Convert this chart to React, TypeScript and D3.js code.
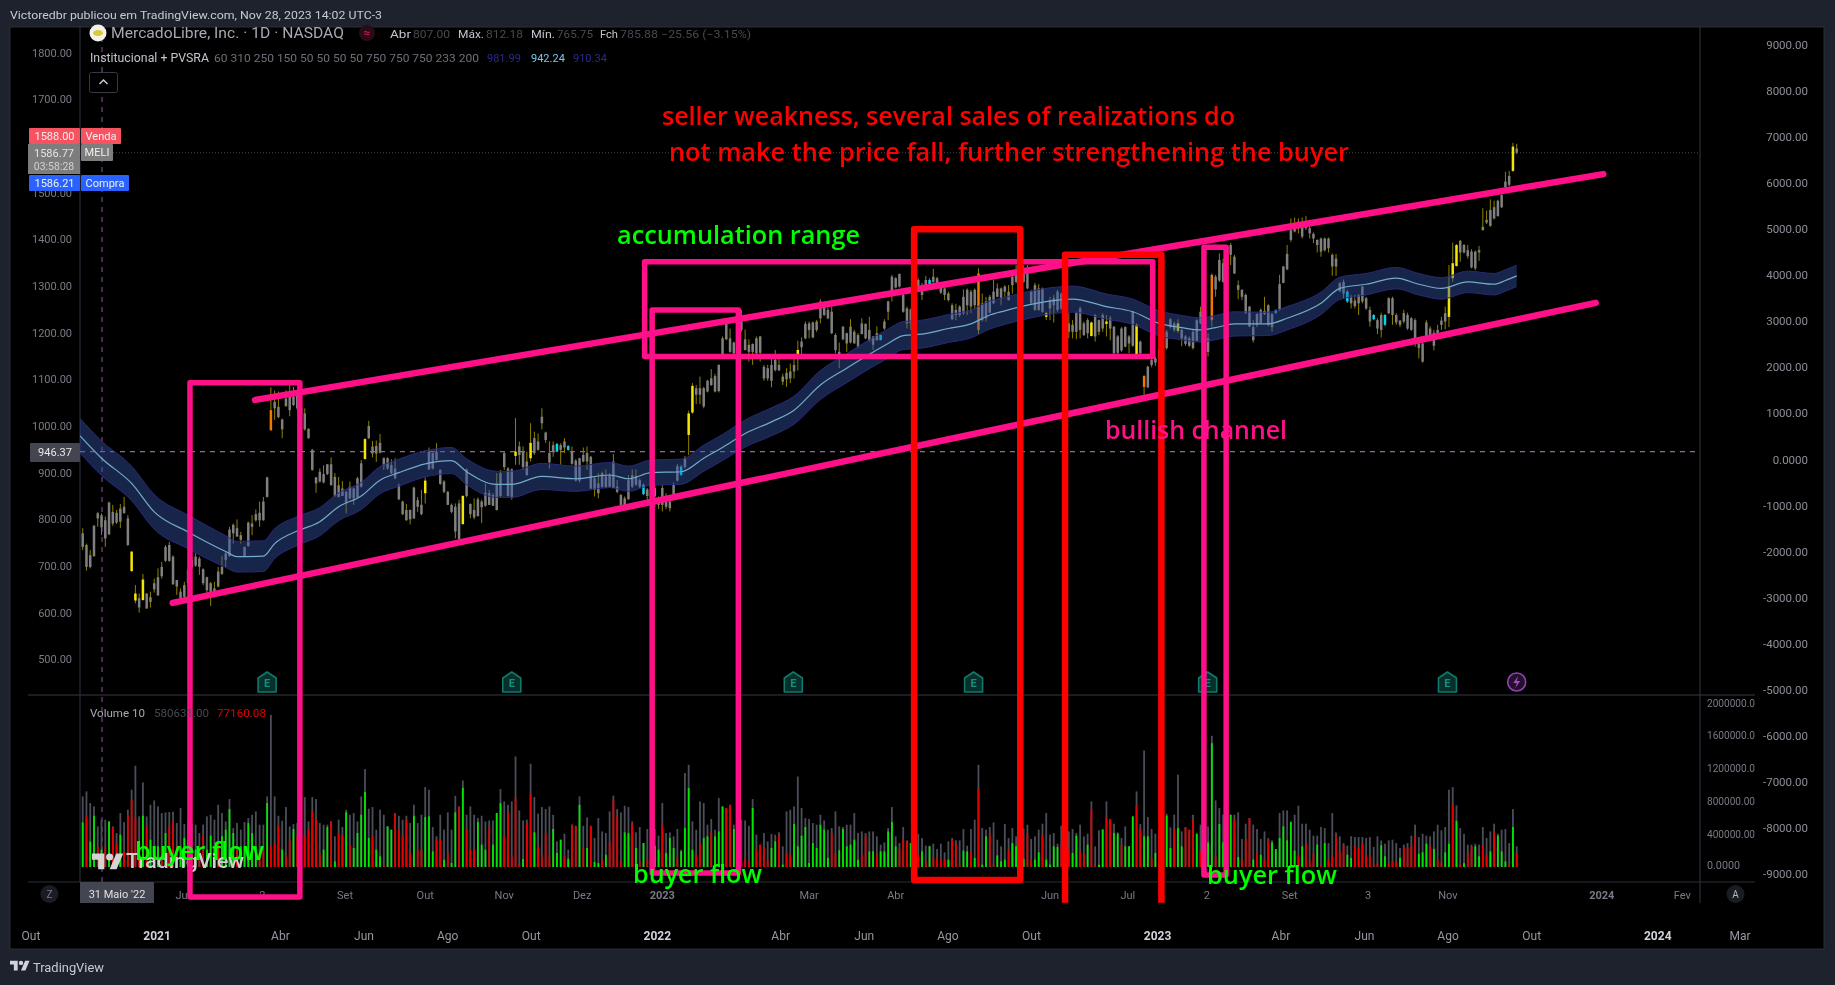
import React from "react";
import * as d3 from "d3";

const W = 1835, H = 985;

// ---------- candle values (MELI, USD) ----------
const bodyTop = [
771,746,724,787,814,810,799,837,817,815,824,828,803,732,642,632,672,642,634,664,
677,699,742,746,721,671,646,660,692,714,721,717,694,677,664,653,689,699,728,779,
789,782,767,742,794,792,812,815,839,891,1035,1053,1042,1015,1060,1071,1064,1067,1042,1028,
995,950,891,903,898,919,919,892,874,867,860,871,867,889,921,973,1001,957,958,965,
932,932,917,910,874,839,821,821,869,842,832,884,946,943,946,907,882,860,832,828,
835,851,908,834,821,844,839,858,857,853,875,900,943,910,908,946,957,946,925,965,
975,968,1021,987,943,960,963,960,968,958,946,927,932,939,943,935,889,878,900,893,
896,925,871,853,846,885,896,894,885,875,865,857,868,843,868,844,839,875,915,914,
932,1028,1087,1082,1082,1082,1098,1103,1108,1132,1189,1220,1189,1180,1207,1225,1187,1175,1177,1189,
1193,1128,1125,1132,1143,1132,1107,1115,1118,1132,1164,1182,1220,1221,1223,1225,1268,1257,1250,1246,
1196,1160,1214,1200,1214,1203,1196,1221,1220,1207,1193,1200,1196,1225,1268,1321,1318,1327,1282,1253,
1251,1293,1314,1293,1314,1314,1321,1318,1298,1296,1285,1260,1250,1257,1278,1293,1289,1293,1328,1264,
1268,1278,1289,1296,1296,1300,1289,1321,1325,1328,1335,1328,1289,1303,1296,1296,1243,1271,1275,1289,
1285,1257,1221,1218,1243,1253,1221,1228,1223,1239,1228,1239,1225,1232,1214,1193,1210,1213,1193,1246,
1218,1182,1108,1128,1143,1146,1164,1251,1203,1230,1221,1221,1207,1193,1189,1203,1228,1246,1218,1189,
1325,1321,1357,1350,1378,1389,1364,1303,1293,1282,1257,1213,1241,1250,1248,1260,1241,1250,1305,1343,
1370,1421,1432,1439,1435,1432,1425,1413,1400,1403,1403,1403,1368,1360,1307,1310,1289,1278,1270,1282,
1300,1275,1250,1239,1228,1239,1239,1275,1275,1239,1227,1243,1239,1232,1228,1178,1178,1223,1210,1201,
1207,1227,1243,1300,1350,1389,1398,1389,1378,1375,1375,1378,1428,1443,1464,1470,1484,1496,1525,1537,
1600,1596];
const bodyBottom = [
742,699,699,722,803,784,760,769,792,794,796,814,746,690,627,612,628,610,624,651,
638,679,712,712,662,657,632,635,664,699,702,699,664,649,635,644,657,684,714,722,
771,764,757,722,744,785,799,799,799,849,992,1039,1020,994,1044,1035,1046,1039,1025,994,
975,907,878,882,880,898,874,851,849,851,835,846,846,848,871,930,975,942,942,944,
917,910,900,889,844,812,799,801,803,828,812,857,908,910,928,877,860,832,817,775,
759,791,851,812,805,808,827,830,832,830,821,851,913,851,848,937,939,913,896,932,
943,950,1007,971,923,946,946,950,955,950,920,884,884,925,925,867,864,857,871,870,
871,868,860,832,832,844,871,875,871,855,851,843,850,832,832,828,825,848,884,896,
913,982,1030,1068,1068,1043,1075,1089,1075,1076,1155,1187,1160,1157,1185,1207,1164,1160,1160,1157,
1158,1103,1103,1098,1121,1120,1096,1101,1103,1118,1155,1170,1189,1207,1191,1207,1232,1239,1232,1200,
1164,1146,1187,1178,1180,1178,1171,1198,1189,1184,1175,1185,1185,1210,1246,1282,1298,1300,1246,1221,
1221,1257,1293,1282,1300,1305,1310,1303,1287,1282,1271,1230,1239,1239,1243,1260,1257,1260,1207,1228,
1232,1244,1264,1278,1275,1289,1271,1303,1310,1307,1310,1296,1264,1250,1250,1246,1235,1253,1260,1250,
1253,1221,1203,1203,1203,1207,1196,1200,1194,1193,1203,1210,1220,1210,1157,1158,1163,1171,1178,1173,
1153,1157,1085,1084,1132,1137,1146,1214,1168,1213,1207,1205,1189,1177,1173,1168,1184,1221,1185,1160,
1228,1294,1313,1310,1346,1368,1328,1293,1278,1243,1214,1185,1218,1221,1241,1218,1213,1244,1250,1308,
1337,1400,1418,1425,1407,1425,1414,1403,1389,1375,1378,1382,1343,1343,1290,1285,1268,1264,1258,1264,
1268,1253,1225,1230,1210,1207,1218,1243,1239,1223,1218,1225,1210,1207,1178,1168,1139,1185,1196,1173,
1200,1218,1225,1235,1318,1344,1373,1373,1365,1341,1339,1373,1421,1437,1430,1446,1451,1470,1513,1518,
1548,1587];
const highs = [
782,749,735,789,817,814,807,839,832,821,834,849,810,732,660,642,684,642,646,674,
696,710,746,753,724,671,653,667,699,724,728,721,696,678,667,667,699,723,732,785,
792,801,774,742,796,810,822,839,849,892,1084,1077,1075,1017,1078,1089,1085,1078,1050,1039,
996,952,892,910,917,919,934,900,892,883,862,882,869,892,928,975,1012,969,970,984,
934,934,930,932,878,841,834,822,871,849,864,891,955,944,964,908,885,862,835,835,
843,853,910,835,846,848,843,878,864,857,900,907,945,913,910,1018,968,957,946,1007,
989,985,1039,989,968,968,964,964,975,960,957,930,933,955,957,937,891,900,903,908,
900,941,885,855,850,896,908,908,889,878,868,864,875,850,875,857,851,880,920,918,
937,1034,1093,1089,1107,1085,1100,1123,1113,1133,1193,1232,1210,1182,1232,1250,1208,1187,1178,1193,
1194,1132,1132,1150,1164,1155,1113,1125,1135,1146,1184,1191,1225,1225,1225,1228,1273,1268,1255,1257,
1200,1180,1215,1201,1230,1207,1200,1232,1221,1235,1194,1215,1197,1230,1270,1325,1320,1328,1285,1257,
1253,1300,1318,1308,1323,1318,1338,1321,1307,1303,1289,1264,1263,1260,1294,1296,1293,1296,1339,1285,
1278,1282,1314,1307,1298,1303,1303,1335,1346,1335,1346,1346,1293,1308,1305,1298,1246,1278,1282,1293,
1287,1260,1243,1228,1246,1257,1225,1232,1225,1241,1230,1243,1239,1237,1215,1196,1213,1215,1196,1248,
1221,1184,1110,1130,1144,1150,1171,1253,1207,1232,1225,1230,1210,1196,1193,1207,1230,1257,1228,1200,
1328,1325,1371,1360,1382,1393,1368,1313,1294,1285,1258,1228,1243,1253,1278,1262,1243,1251,1325,1344,
1389,1446,1448,1446,1448,1451,1443,1416,1401,1405,1405,1405,1371,1370,1310,1315,1293,1282,1282,1284,
1301,1278,1257,1241,1232,1244,1241,1277,1278,1243,1228,1250,1244,1235,1232,1189,1182,1228,1215,1207,
1218,1235,1257,1346,1394,1391,1400,1391,1389,1380,1377,1387,1468,1463,1487,1484,1486,1498,1546,1548,
1608,1606];
const lows = [
735,691,696,721,785,767,742,767,787,791,782,814,744,689,621,601,627,609,612,644,
637,674,710,710,660,639,624,629,657,696,699,682,660,642,615,644,655,682,699,721,
749,764,749,721,742,767,796,785,798,848,991,1014,1018,975,1042,1022,1044,1035,1021,991,
974,905,858,880,878,896,874,849,848,851,814,844,832,846,869,930,973,934,924,942,
907,907,898,887,842,810,798,790,802,817,810,835,907,908,927,875,857,832,814,760,
757,789,848,803,801,807,793,828,832,830,820,848,907,850,843,918,918,907,894,925,
939,948,994,965,910,935,946,918,943,948,918,882,880,923,907,865,850,846,868,868,
870,868,857,830,828,843,868,873,868,853,832,832,827,823,818,823,818,848,882,894,
910,939,1027,1048,1048,1039,1073,1087,1073,1073,1153,1185,1158,1155,1153,1203,1163,1139,1132,1155,
1139,1098,1098,1084,1118,1120,1089,1085,1093,1103,1120,1150,1187,1189,1189,1203,1221,1237,1230,1198,
1157,1125,1185,1160,1178,1178,1168,1198,1187,1182,1164,1184,1185,1207,1228,1268,1296,1298,1244,1210,
1207,1253,1289,1271,1298,1305,1308,1301,1284,1271,1268,1228,1228,1235,1239,1239,1243,1251,1196,1225,
1225,1243,1263,1277,1260,1278,1270,1285,1307,1300,1308,1294,1260,1248,1248,1244,1228,1228,1223,1246,
1250,1210,1189,1189,1187,1189,1194,1189,1193,1182,1196,1203,1193,1185,1153,1155,1160,1170,1157,1171,
1151,1153,1068,1082,1127,1130,1127,1185,1165,1210,1203,1201,1172,1173,1170,1165,1182,1220,1178,1150,
1214,1278,1310,1308,1343,1346,1327,1273,1271,1241,1213,1180,1213,1220,1239,1215,1203,1241,1248,1307,
1335,1396,1416,1414,1403,1421,1403,1393,1373,1364,1375,1373,1323,1323,1289,1275,1265,1253,1253,1239,
1264,1250,1214,1228,1198,1191,1215,1241,1218,1218,1213,1221,1207,1205,1171,1146,1137,1184,1189,1163,
1196,1207,1208,1213,1310,1343,1353,1371,1360,1339,1335,1355,1420,1434,1428,1444,1450,1468,1511,1515,
1546,1584];
const yellowBars = [13,14,16,75,91,101,115,119,161,162,190,256,268,272,280,291,363,364,365,380];
const orangeBars = [50,238,282,300];
const cyanBars = [126,129,149,159,212,225,317,336,343,346];

// ---------- volume, thousands of shares; delta sign picks green / red ----------
const volTotal = [
861,922,780,739,495,577,577,556,495,414,658,548,698,942,1234,617,1031,617,759,812,
739,658,666,670,674,536,719,524,577,536,516,414,516,617,637,577,759,658,556,828,
475,536,455,548,597,637,678,516,516,861,1855,861,625,564,731,495,524,536,617,853,
556,853,828,536,516,516,556,374,577,487,698,637,658,556,861,1194,711,731,455,698,
637,495,455,658,625,577,625,536,759,536,637,974,942,487,374,637,455,666,455,869,
739,1056,637,739,637,597,625,556,568,568,658,950,800,759,800,1348,690,568,577,1259,
853,650,731,706,739,637,313,333,406,211,516,503,861,503,605,503,353,597,434,414,
678,869,706,666,747,731,556,422,487,292,463,475,463,382,780,414,422,374,463,211,
1145,1246,556,455,800,780,516,585,455,840,739,719,759,516,577,577,568,503,828,394,
272,414,313,402,394,422,252,678,698,739,1104,719,597,585,536,516,637,568,455,475,
678,495,487,516,516,658,414,434,414,434,434,374,272,300,475,731,374,292,487,325,
292,406,406,353,260,260,284,219,284,179,313,353,325,325,463,260,463,577,1246,475,
455,487,544,333,252,524,353,475,374,516,470,516,341,374,455,528,658,394,414,284,
503,434,434,463,414,516,374,406,800,252,447,463,800,585,528,422,353,495,252,617,
922,524,1421,609,463,406,455,700,650,483,637,1125,434,487,455,637,406,516,380,495,
1600,812,719,640,600,637,637,666,341,528,597,516,463,341,434,353,325,219,658,690,
690,556,637,747,528,528,455,382,382,487,475,292,658,422,374,292,260,374,365,365,
365,353,365,244,374,325,284,325,333,292,231,272,292,382,516,365,406,382,374,434,
516,447,487,942,974,751,475,406,272,272,284,272,487,353,434,528,406,455,463,292,
706,252];
const volDelta = [
544,-617,309,625,-252,211,-252,556,-475,-292,394,-191,-637,-820,-597,-211,625,-495,333,-211,
252,-252,414,-495,-556,-252,252,353,333,-211,211,-211,-394,211,382,252,-292,374,455,706,
414,-211,252,252,536,414,252,-171,-211,780,-252,-292,-503,211,-130,-341,463,-374,-252,-374,
-455,-678,-577,-171,211,487,-556,69,-414,-394,666,-272,231,414,637,914,353,-374,211,130,
-28,495,455,-658,-455,-374,-580,-171,625,-211,-211,609,617,191,-333,-333,89,-171,49,666,
-719,966,-455,-211,-219,548,272,211,-487,272,658,780,-374,-666,-130,-840,-28,97,-536,-893,
422,-252,-130,-414,-130,463,171,333,-130,100,-516,-495,759,-231,231,-500,60,49,-80,150,
-300,-812,-617,-69,422,414,-524,231,-69,292,-100,252,260,211,-516,171,353,231,-110,191,
475,962,211,-150,-292,353,374,-422,374,434,739,-719,-759,463,400,-60,-118,-69,719,-219,
-272,-231,-89,231,313,-394,28,-171,-150,524,252,382,487,49,292,231,516,455,110,-414,
-171,203,463,252,272,333,89,-150,-382,191,191,-150,191,191,434,548,252,-219,-333,-313,
292,200,-150,191,-69,252,-110,-110,-89,-89,89,-333,-292,-28,199,191,-191,110,-954,28,
374,-406,-28,142,69,89,-211,292,252,-120,100,-406,-89,89,179,-394,89,28,252,244,
-272,150,-200,171,382,-191,-171,272,-698,-28,28,455,-597,-585,414,406,-272,252,252,617,
-747,-455,374,374,-110,171,-150,300,625,231,-455,475,252,-487,-455,-577,406,-200,180,300,
1510,-130,524,300,-200,637,-585,122,-80,-333,-597,89,-171,150,-89,-325,300,219,353,495,
325,548,199,-138,252,-292,-69,-171,272,-16,292,-89,-130,-374,-183,-264,150,110,-252,-231,
-284,-150,-130,-28,-49,264,130,-49,-69,-57,110,-244,-231,-252,-374,162,179,284,-252,219,
-89,-57,179,284,-759,564,-28,49,-171,-252,252,130,-260,-150,191,-422,382,191,69,-28,
487,-171];

// ---------- institutional band: bar index, centre price, half width ----------
const bandIndex = [-0.7,5,13,19,28,38,41,48,51,57,63,68,74,79,84,91,98,102,110,114,122,131,140,145,151,159,165,170,176,183,189,196,203,208,214,218,223,230,236,241,245,251,259,263,272,279,286,292,297,301,306,315,320,329,334,341,349,355,361,368,375,378,381];
const bandCentre = [980,932,878,817,774,732,721,722,749,776,796,828,851,885,901,920,927,903,876,876,893,888,896,888,901,903,932,955,985,1010,1035,1089,1125,1150,1178,1195,1198,1210,1220,1239,1248,1260,1271,1273,1257,1246,1221,1212,1207,1212,1220,1220,1232,1264,1296,1305,1318,1305,1296,1310,1305,1313,1323];
const bandHalf = [37,37,37,37,36,34,33,33,32,31,30,30,29,29,29,28,28,28,28,28,28,27,27,27,27,27,28,28,29,30,30,31,31,31,31,30,30,30,30,30,29,29,28,28,27,27,27,26,26,26,26,25,25,24,24,23,23,23,23,23,23,23,23];

// ---------- axes ----------
const priceTicks = [1800,1700,1500,1400,1300,1200,1100,1000,900,800,700,600,500];
const rightTicks = [9000,8000,7000,6000,5000,4000,3000,2000,1000,0,-1000,-2000,-3000,-4000,-5000,-6000,-7000,-8000,-9000];
const volTicks = ["2000000.0","1600000.0","1200000.0","800000.00","400000.00","0.0000"];
const volTickValues = [2000,1600,1200,800,400,20];
const upperTickLabels = ["Jul","2","Set","Out","Nov","Dez","2023","Mar","Abr","Jun","Jul","2","Set","3","Nov","2024","Fev"];
const upperTickBars = [26.6,47.7,69.7,91,112,132.7,154,193,216,257,277.7,298.7,320.7,341.5,362.7,403.6,425];
const lowerTickLabels = ["Out","2021","Abr","Jun","Ago","Out","2022","Abr","Jun","Ago","Out","2023","Abr","Jun","Ago","Out","2024","Mar"];
const lowerTickDates = ["2020-10-01","2021-01-01","2021-04-01","2021-06-01","2021-08-01","2021-10-01","2022-01-01","2022-04-01","2022-06-01","2022-08-01","2022-10-01","2023-01-01","2023-04-01","2023-06-01","2023-08-01","2023-10-01","2024-01-01","2024-03-01"];
const earningsBars = [49,114,188.8,236.7,298.9,362.6];

// ---------- drawn annotations, in bar index and price ----------
const upperTrend = [[45.8,1057],[404,1541]];
const lowerTrend = [[23.9,622],[402,1265]];
const pinkBoxes = [[28.5,57.7,1094,-8.6],[151.3,174.2,1250,43],[149.3,284.3,1353,1150],[297.9,303.8,1384,38.6]];
const redBox = [220.9,249.1,1423,28];
const redOpenBox = [261,286.6,1368,-21];

const UI = "Roboto, 'Open Sans', sans-serif";
const NOTE = "'Open Sans', 'Noto Sans', sans-serif";
const PINK = "#ff1088", RED = "#ff0000", GREEN = "#00ff00";

const x = d3.scaleLinear().domain([0, 381]).range([82.7, 1516.7]);
const yP = d3.scaleLinear().domain([1800, 500]).range([53.3, 659.75]);
const yR = d3.scaleLinear().domain([7000, -9000]).range([137, 874.3]);
const yV = d3.scaleLinear().domain([0, 400]).range([867, 834.2]);
const xT = d3.scaleUtc().domain([new Date("2020-10-01"), new Date("2024-03-01")]).range([31, 1740]);

const bandPts = bandIndex.map((b, k) => ({ b, c: bandCentre[k], h: bandHalf[k] }));
const bandArea = d3.area<any>().x(d => x(d.b)).y0(d => yP(d.c - d.h)).y1(d => yP(d.c + d.h)).curve(d3.curveMonotoneX);
const bandUp = d3.line<any>().x(d => x(d.b)).y(d => yP(d.c + d.h)).curve(d3.curveMonotoneX);
const bandDn = d3.line<any>().x(d => x(d.b)).y(d => yP(d.c - d.h)).curve(d3.curveMonotoneX);
const bandMid = d3.line<any>().x(d => x(d.b)).y(d => yP(d.c)).curve(d3.curveMonotoneX);

const yellowSet = new Set(yellowBars), orangeSet = new Set(orangeBars), cyanSet = new Set(cyanBars);
const bodyColor = (i: number) => yellowSet.has(i) ? "#f4e600" : orangeSet.has(i) ? "#f07800" : cyanSet.has(i) ? "#00d8f0" : "#808080";

const T = ({ x: tx, y, s = 11, c = "#787b86", w = 400, a = "start", f = UI, len, children }: any) => (
  <text x={tx} y={y} fontSize={s} fill={c} fontWeight={w} textAnchor={a} fontFamily={f} dominantBaseline="central"
    {...(len ? { textLength: len, lengthAdjust: "spacingAndGlyphs" } : {})}>{children}</text>
);

const Logo = ({ tx, ty, k, c }: any) => (
  <g transform={`translate(${tx},${ty}) scale(${k})`} fill={c}>
    <path d="M14 22H7V11H0V4h14v18z" />
    <circle cx={20} cy={8} r={4} />
    <path d="M28 22h-8l7.5-18h8L28 22z" />
  </g>
);

const Tag = ({ x0, x1, y0, y1, fill, label }: any) => (
  <g>
    <rect x={x0} y={y0} width={x1 - x0} height={y1 - y0} fill={fill} rx={1} />
    <T x={(x0 + x1) / 2} y={(y0 + y1) / 2} s={11} c="#f0f0f0" a="middle">{label}</T>
  </g>
);

const boxPath = (b: number[], closed: boolean) => {
  const [a, z, top, bot] = b;
  return closed
    ? `M${x(a)},${yP(top)}H${x(z)}V${yP(bot)}H${x(a)}Z`
    : `M${x(a)},${yP(bot)}V${yP(top)}H${x(z)}V${yP(bot)}`;
};
const trendPath = (t: number[][]) => `M${x(t[0][0])},${yP(t[0][1])}L${x(t[1][0])},${yP(t[1][1])}`;

export default function App() {
  return (
    <svg width={W} height={H} viewBox={`0 0 ${W} ${H}`}
      style={{ position: "fixed", left: 0, top: 0, display: "block", background: "#1e222d", filter: "blur(0.35px)" }}>
      <rect x={10} y={27} width={1814} height={922} fill="#000" stroke="#2a2e39" strokeWidth={1} />
      <T x={10} y={15} s={11.5} c="#c8cbd3" len={372}>Victoredbr publicou em TradingView.com, Nov 28, 2023 14:02 UTC-3</T>

      {/* pane frames */}
      <g stroke="#2a2e39" strokeWidth={1.2}>
        <line x1={80} x2={80} y1={27} y2={882} />
        <line x1={1700} x2={1700} y1={27} y2={903} />
        <line x1={28} x2={1755} y1={695} y2={695} stroke="#363a45" />
        <line x1={28} x2={1755} y1={882} y2={882} />
      </g>

      {/* crosshair and last price */}
      <line x1={102} x2={102} y1={27} y2={882} stroke="#7d3f8f" strokeWidth={1.2} strokeDasharray="5 5" />
      <line x1={80} x2={1700} y1={451.7} y2={451.7} stroke="#9a5fb0" strokeWidth={1.2} strokeDasharray="5 5" />
      <line x1={113} x2={1700} y1={yP(1586.77)} y2={yP(1586.77)} stroke="#4a4a4a" strokeWidth={1} strokeDasharray="1 2" />

      {/* volume */}
      <g>
        {volTotal.map((v, i) => <rect key={i} x={x(i) - 0.9} width={1.8} y={yV(v)} height={yV(0) - yV(v)} fill="#4a4e59" />)}
        {volDelta.map((v, i) => <rect key={i} x={x(i) - 0.9} width={1.8} y={yV(Math.abs(v))} height={yV(0) - yV(Math.abs(v))} fill={v > 0 ? "#00e600" : "#e60000"} />)}
      </g>
      <Logo tx={92} ty={850} k={0.88} c="#d4d4d4" />
      <T x={126} y={861} s={20} w={500} c="#cfcfcf" len={118}>TradingView</T>

      {/* candles */}
      <g>
        {highs.map((h, i) => <line key={i} x1={x(i)} x2={x(i)} y1={yP(h)} y2={yP(lows[i])} stroke="#8d8200" strokeWidth={1} />)}
        {bodyTop.map((t, i) => <rect key={i} x={x(i) - 1.25} width={2.5} y={yP(t)} height={Math.max(1, yP(bodyBottom[i]) - yP(t))} fill={bodyColor(i)} />)}
      </g>

      {/* band, over the candles */}
      <path d={bandArea(bandPts) || ""} fill="rgba(54,84,170,0.44)" />
      <path d={bandUp(bandPts) || ""} fill="none" stroke="#2a2878" strokeWidth={1} />
      <path d={bandDn(bandPts) || ""} fill="none" stroke="#2a2878" strokeWidth={1} />
      <path d={bandMid(bandPts) || ""} fill="none" stroke="#72abc8" strokeWidth={1.2} />

      {/* earnings icons */}
      {earningsBars.map((b, i) => (
        <g key={i} transform={`translate(${x(b)},682)`}>
          <path d="M-9,-4 L0,-10 L9,-4 V10 H-9 Z" fill="#07302c" stroke="#0f7a6c" strokeWidth={1.6} strokeLinejoin="round" />
          <T x={0} y={1} s={11} c="#12917f" a="middle" w={700}>E</T>
        </g>
      ))}
      <g transform={`translate(${x(381)},682)`}>
        <circle r={9} fill="#24102c" stroke="#8e44ad" strokeWidth={1.6} />
        <path d="M1.5,-6 L-3.5,1 H0 L-1.5,6 L3.5,-1 H0 Z" fill="#9c4fc0" />
      </g>

      {/* price axes */}
      {priceTicks.map(p => <T key={p} x={72} y={yP(p)} a="end" s={11}>{p.toFixed(2)}</T>)}
      {rightTicks.map(p => <T key={p} x={1808} y={yR(p)} a="end" s={11.5} c="#8c8f98">{p === 0 ? "0.0000" : p.toFixed(2)}</T>)}
      {volTicks.map((l, i) => <T key={l} x={1707} y={yV(volTickValues[i])} s={11} len={i < 5 ? 48 : 33}>{l}</T>)}

      {/* time axes */}
      {upperTickLabels.map((l, i) => <T key={i} x={x(upperTickBars[i])} y={895} a="middle" s={11} w={/^20/.test(l) ? 700 : 400}>{l}</T>)}
      {lowerTickLabels.map((l, i) => <T key={i} x={xT(new Date(lowerTickDates[i]))} y={936} a="middle" s={12} c={/^20/.test(l) ? "#d1d4dc" : "#9598a1"} w={/^20/.test(l) ? 700 : 400}>{l}</T>)}

      {/* annotations */}
      <g fill="none" stroke={PINK} strokeWidth={5.5} strokeLinejoin="round" strokeLinecap="round">
        {pinkBoxes.map((b, i) => <path key={i} d={boxPath(b, true)} />)}
        <path d={trendPath(upperTrend)} strokeWidth={6.5} />
        <path d={trendPath(lowerTrend)} strokeWidth={6.5} />
      </g>
      <g fill="none" stroke={RED} strokeWidth={6.5} strokeLinejoin="round">
        <path d={boxPath(redBox, true)} />
        <path d={boxPath(redOpenBox, false)} />
      </g>

      {/* date label and round buttons, above the drawings */}
      <rect x={80} y={882} width={74} height={21} fill="#434651" />
      <T x={117} y={894} a="middle" s={11} c="#e0e0e0">31 Maio '22</T>
      <circle cx={49.4} cy={894} r={9} fill="#1a1c24" />
      <T x={49.4} y={894} a="middle" s={10}>Z</T>
      <circle cx={1735.5} cy={894} r={9} fill="#1a1c24" />
      <T x={1735.5} y={894} a="middle" s={10} c="#b2b5be">A</T>

      {/* legend */}
      <circle cx={98} cy={33} r={8.5} fill="#f2f2ea" />
      <ellipse cx={98} cy={33} rx={5} ry={3} fill="#d8c83a" />
      <T x={111} y={33} s={15} c="#a6a9b2" len={233}>MercadoLibre, Inc. · 1D · NASDAQ</T>
      <circle cx={367} cy={33} r={8} fill="#2a0c18" />
      <T x={367} y={33} s={12} c="#d0205c" a="middle">≈</T>
      <T x={390} y={34} s={11} c="#c2c5cc" len={21}>Abr</T>
      <T x={413} y={34} s={11} c="#474a52" len={37}>807.00</T>
      <T x={458} y={34} s={11} c="#c2c5cc" len={26}>Máx.</T>
      <T x={486} y={34} s={11} c="#474a52" len={37}>812.18</T>
      <T x={531} y={34} s={11} c="#c2c5cc" len={24}>Mín.</T>
      <T x={557} y={34} s={11} c="#474a52" len={36}>765.75</T>
      <T x={600} y={34} s={11} c="#c2c5cc" len={18}>Fch</T>
      <T x={620} y={34} s={11} c="#474a52" len={131}>785.88 −25.56 (−3.15%)</T>
      <T x={90} y={58} s={12} c="#c2c5cc" len={119}>Institucional + PVSRA</T>
      <T x={214} y={58} s={11} c="#6d7079" len={265}>60 310 250 150 50 50 50 50 750 750 750 233 200</T>
      <T x={487} y={58} s={11} c="#2a2a90">981.99</T>
      <T x={531} y={58} s={11} c="#7fc6e6">942.24</T>
      <T x={573} y={58} s={11} c="#2a2a90">910.34</T>
      <rect x={89.5} y={72.5} width={28} height={20} rx={2} fill="#000" stroke="#363a45" />
      <path d="M99.5,84 L103.5,80 L107.5,84" fill="none" stroke="#c8cbd3" strokeWidth={1.5} />

      {/* price tags */}
      <Tag x0={29} x1={80} y0={128} y1={144} fill="#f7525f" label="1588.00" />
      <Tag x0={81} x1={121} y0={128} y1={144} fill="#f7525f" label="Venda" />
      <rect x={28} y={144} width={52} height={30} fill="#7d7d7d" />
      <T x={54} y={153} a="middle" s={11} c="#e4e4e4">1586.77</T>
      <T x={54} y={166} a="middle" s={10.5} c="#d0d0d0">03:58:28</T>
      <Tag x0={81} x1={113} y0={144} y1={161} fill="#7d7d7d" label="MELI" />
      <Tag x0={29} x1={80} y0={175} y1={191} fill="#2962ff" label="1586.21" />
      <Tag x0={81} x1={129} y0={175} y1={191} fill="#2962ff" label="Compra" />
      <rect x={30} y={443} width={50} height={19} fill="#434651" rx={1} />
      <T x={55} y={452} a="middle" s={11} c="#e8e8e8">946.37</T>

      <T x={90} y={713} s={11} c="#a6a9b2" len={55}>Volume 10</T>
      <T x={154} y={713} s={11} c="#474a52" len={55}>580631.00</T>
      <T x={217} y={713} s={11} c="#e00000" len={49}>77160.08</T>

      {/* notes */}
      <T x={662} y={115} s={25} w={600} c={RED} f={NOTE} len={573}>seller weakness, several sales of realizations do</T>
      <T x={669} y={151} s={25} w={600} c={RED} f={NOTE} len={680}>not make the price fall, further strengthening the buyer</T>
      <T x={617} y={234} s={25} w={600} c={GREEN} f={NOTE} len={243}>accumulation range</T>
      <T x={1105} y={429} s={25} w={600} c={PINK} f={NOTE} len={182}>bullish channel</T>
      <T x={135} y={850} s={25} w={600} c={GREEN} f={NOTE} len={129}>buyer flow</T>
      <T x={633} y={873} s={25} w={600} c={GREEN} f={NOTE} len={129}>buyer flow</T>
      <T x={1207} y={874} s={25} w={600} c={GREEN} f={NOTE} len={130}>buyer flow</T>

      {/* footer */}
      <Logo tx={10} ty={958.5} k={0.55} c="#d1d4dc" />
      <T x={33} y={967} s={12.5} c="#c8cbd3" len={71}>TradingView</T>
    </svg>
  );
}
